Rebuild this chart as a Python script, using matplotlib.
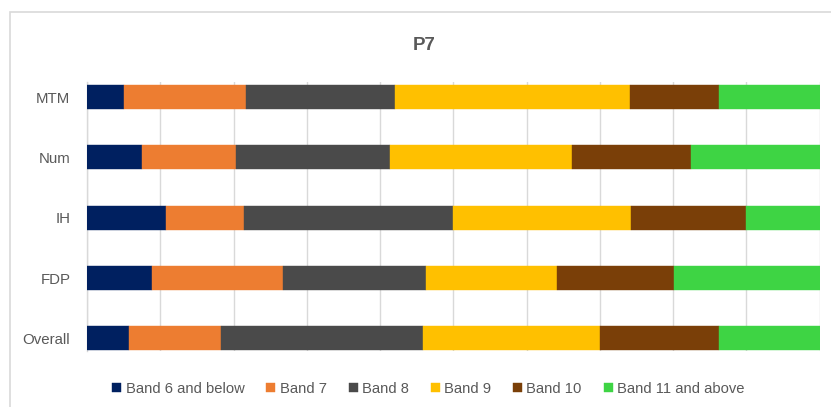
import numpy as np
import matplotlib
matplotlib.use("Agg")
import matplotlib.pyplot as plt
from matplotlib.patches import Rectangle

plt.rcParams['font.family'] = ['Liberation Sans', 'DejaVu Sans']

# Share of staff in each band (%), per area
categories = ['MTM', 'Num', 'IH', 'FDP', 'Overall']
bands = ['Band 6 and below', 'Band 7', 'Band 8', 'Band 9', 'Band 10', 'Band 11 and above']
band6_below = [5.0, 7.5, 10.8, 8.9, 5.8]
band7 = [16.7, 12.9, 10.6, 17.9, 12.5]
band8 = [20.4, 21.0, 28.6, 19.5, 27.6]
band9 = [32.0, 24.8, 24.3, 17.9, 24.1]
band10 = [12.1, 16.2, 15.6, 15.9, 16.2]
band11_above = [13.8, 17.6, 10.1, 19.9, 13.8]

colors = ['#002060', '#ED7D31', '#4A4A4A', '#FFC000', '#7A3F08', '#3ED444']
text_col = '#595959'
grid_col = '#D9D9D9'

fig = plt.figure(figsize=(8.31, 4.07), dpi=100)

# outer chart frame (top and left edges)
fig.add_artist(Rectangle((10 / 831, -0.1), 1.0, 1 - 12 / 407 + 0.1,
                         transform=fig.transFigure, fill=False,
                         edgecolor=grid_col, linewidth=1.2))

ax = fig.add_axes([87 / 831, 1 - 351 / 407, 732.6 / 831, 269 / 407])

series = [band6_below, band7, band8, band9, band10, band11_above]
y = np.arange(len(categories))
left = np.zeros(len(categories))
for vals, name, col in zip(series, bands, colors):
    vals = np.array(vals)
    ax.barh(y, vals, left=left, height=0.4, color=col, label=name,
            edgecolor=col, linewidth=0.3, zorder=3)
    left += vals

ax.set_xlim(0, 100)
ax.set_ylim(4.21, -0.25)
ax.set_xticks(np.arange(0, 101, 10))
ax.tick_params(axis='x', length=0, labelbottom=False)
ax.tick_params(axis='y', length=0, pad=12, labelsize=10.8, labelcolor=text_col)
ax.set_yticks(y)
ax.set_yticklabels(categories)
ax.grid(axis='x', color=grid_col, linewidth=1, zorder=0)
for s in ['top', 'right', 'bottom']:
    ax.spines[s].set_visible(False)
ax.spines['left'].set_color(grid_col)
ax.spines['left'].set_linewidth(1)

fig.text(424 / 831, 1 - 45 / 407, 'P7', ha='center', va='center',
         fontsize=13.5, fontweight='bold', color=text_col)

leg = fig.legend(loc='center', bbox_to_anchor=(428.5 / 831, 1 - 389 / 407),
                 ncol=6, frameon=False, fontsize=10.6, handlelength=0.6,
                 handleheight=0.6, handletextpad=0.3, columnspacing=1.5,
                 borderpad=0)
for t in leg.get_texts():
    t.set_color(text_col)

fig.savefig('out.png', dpi=100)
